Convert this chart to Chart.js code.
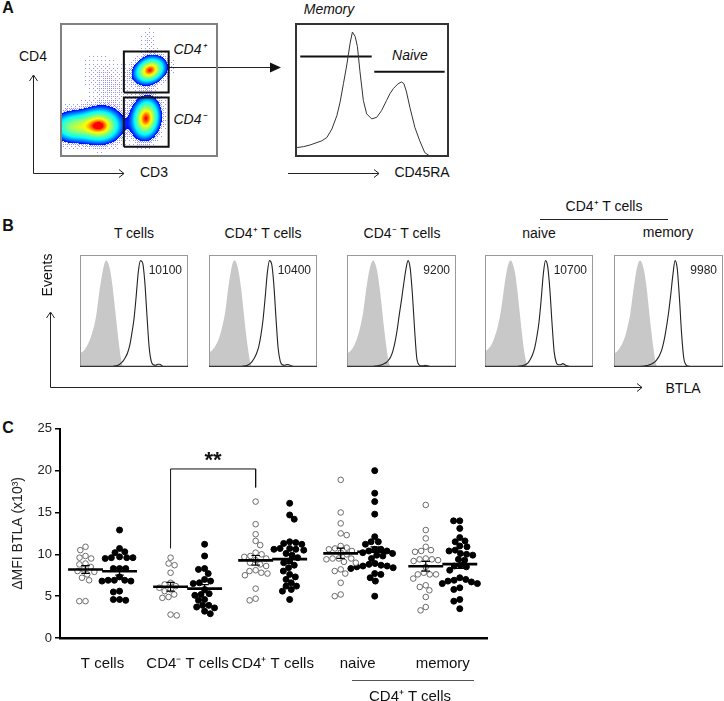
<!DOCTYPE html>
<html>
<head>
<meta charset="utf-8">
<title>BTLA expression on T cell subsets</title>
<script src="https://cdn.jsdelivr.net/npm/chart.js@4.4.1/dist/chart.umd.min.js"></script>
<style>
  html, body { margin:0; padding:0; background:#fff; }
  body { position:relative; width:724px; height:701px; overflow:hidden; font-family:"Liberation Sans", Arial, sans-serif; color:#111; }
  .t { position:absolute; white-space:nowrap; line-height:1; transform:translate(-50%,-50%); font-size:14px; }
  .r { position:absolute; white-space:nowrap; line-height:1; transform:translate(-100%,-50%); font-size:12px; color:#222; }
  .i { font-style:italic; }
  .p { font-weight:bold; font-size:16px; }
  .v { filter:grayscale(100%); color:#111; }
  canvas { position:absolute; }
  svg { position:absolute; left:0; top:0; }
</style>
</head>
<body>
<svg width="724" height="701" viewBox="0 0 724 701">
  <g stroke="#222" stroke-width="1" fill="none">
    <polyline points="33.5,76 33.5,173.5 124,173.5"/>
    <polyline points="29.5,81 33.5,75 37.5,81"/>
    <polyline points="119,169.5 124,173.5 119,177.5"/>
    <line x1="168" y1="67.5" x2="272" y2="67.5"/>
    <line x1="288" y1="173.5" x2="379" y2="173.5"/>
    <polyline points="374,169.5 379,173.5 374,177.5"/>
    <polyline points="50.5,313 50.5,387.5 642,387.5"/>
    <polyline points="46.5,318 50.5,312 54.5,318"/>
    <polyline points="637,383.5 642,387.5 637,391.5"/>
    <line x1="540" y1="219.5" x2="668" y2="219.5"/>
    <line x1="352" y1="680.5" x2="474" y2="680.5" stroke="#555"/>
  </g>
  <polygon points="270,62.5 281,67.5 270,72.5" fill="#111"/>
</svg>

<!-- Panel A -->
<div class="t p" style="left:8px;top:8px">A</div>
<div class="t" style="left:33px;top:56px">CD4</div>
<div class="t" style="left:154px;top:172px">CD3</div>
<div class="t i" style="left:190px;top:49px">CD4⁺</div>
<div class="t i" style="left:190px;top:119px">CD4⁻</div>
<div class="t i" style="left:329px;top:9px">Memory</div>
<div class="t i" style="left:410px;top:55px">Naive</div>
<div class="t" style="left:422px;top:172px">CD45RA</div>
<canvas id="dens" width="158" height="134" style="left:60px;top:23px"></canvas>
<canvas id="cd45" width="154" height="134" style="left:295px;top:23px"></canvas>

<!-- Panel B -->
<div class="t p" style="left:8px;top:226px">B</div>
<div class="t" style="left:134px;top:233px">T cells</div>
<div class="t" style="left:263px;top:233px">CD4⁺ T cells</div>
<div class="t" style="left:402px;top:233px">CD4⁻ T cells</div>
<div class="t" style="left:539px;top:233px">naive</div>
<div class="t" style="left:668px;top:232px">memory</div>
<div class="t" style="left:604px;top:206px">CD4⁺ T cells</div>
<div class="t v" style="left:47px;top:275px;transform:translate(-50%,-50%) rotate(-90deg)">Events</div>
<div class="t" style="left:683px;top:388px">BTLA</div>
<canvas id="b0" width="110" height="114" style="left:79px;top:254px"></canvas>
<canvas id="b1" width="110" height="114" style="left:208px;top:254px"></canvas>
<canvas id="b2" width="111" height="114" style="left:346px;top:254px"></canvas>
<canvas id="b3" width="110" height="114" style="left:484px;top:254px"></canvas>
<canvas id="b4" width="111" height="114" style="left:613px;top:254px"></canvas>

<!-- Panel C -->
<div class="t p" style="left:8px;top:428px">C</div>
<canvas id="dots" width="500" height="283" style="left:0px;top:418px"></canvas>
<div class="t" style="left:410px;top:695px;font-size:15px">CD4⁺ T cells</div>

<script>
// ---------------- DATA ----------------
// Panel A: density plot populations (CD3 on x, CD4 on y, 0-100 arbitrary display units)
const popNames  = ['CD3- core', 'CD3- tail', 'CD4+ T', 'CD4- T', 'smear', 'CD4+ high'];
const popX      = [25, 7, 57, 54.5, 30, 56];
const popY      = [23, 22, 65, 28.5, 55, 87];
const popSdU    = [8, 8, 6.5, 5.2, 9, 3.5];
const popSdV    = [7.5, 7, 5.2, 9, 15, 7];
const popAngle  = [0, 0, 45, -5, 25, 0];
const popWeight = [1, 0.6, 1, 1, 0.09, 0.07];
// Gates (x range, y range)
const gateCD4posX = [40.3, 69.0];
const gateCD4posY = [48.1, 79.2];
const gateCD4negX = [40.3, 69.0];
const gateCD4negY = [7.1, 44.3];

// Panel A: CD45RA histogram of CD4+ T cells (% of box height)
const cd45raX = [0.7, 5.0, 9.4, 13.8, 17.0, 20.3, 23.6, 26.9, 29.0, 31.2, 33.4, 35.6, 37.1, 38.9, 40.4, 42.1, 44.3, 46.5, 49.8, 53.1, 56.3, 59.6, 61.8, 64.0, 67.2, 69.4, 71.0, 72.7, 74.9, 78.2, 81.4, 84.7, 88.0, 100];
const cd45raY = [6.4, 7.1, 8.4, 10.2, 11.5, 14.0, 20.4, 30.6, 40.8, 54.8, 68.9, 85.5, 93.9, 90.6, 82.9, 63.8, 42.1, 31.9, 28.1, 29.3, 34.4, 42.1, 47.2, 51.0, 54.8, 56.1, 54.8, 48.5, 37.0, 21.7, 11.5, 2.6, 0, 0];
const memoryGateX = [2.8, 49.8], memoryGateY = 75.3;
const naiveGateX  = [51.5, 97.8], naiveGateY = 63.8;

// Panel B: BTLA histograms (channel position, % of box height)
const btlaX = [0, 3, 6, 9, 12, 15, 18, 20, 22, 24, 26, 28, 30, 32, 34, 36, 38, 40, 42, 44, 46, 48, 50, 52, 54, 56, 58, 60, 62, 64, 66, 68, 70, 72, 74, 76, 80, 90, 100];
const isoTcells    = [12.5, 14, 18, 24, 33, 46, 68, 80, 90, 95, 93, 86, 73, 56, 38, 21, 7, 0, 0, 0, 0, 0, 0, 0, 0, 0, 0, 0, 0, 0, 0, 0, 0, 0, 0, 0, 0, 0, 0];
const btlaTcells   = [0, 0, 0, 0, 0, 0, 0, 0, 0, 0, 0.2, 0.3, 0.5, 0.9, 1.2, 2, 3.5, 5.5, 8.5, 12.5, 19, 30, 43, 63, 85, 95, 93, 76, 46, 18, 5, 2, 1.5, 2.5, 2.5, 1, 0, 0, 0];
const isoCD4pos    = [13, 15, 19, 25, 35, 49, 72, 84, 93, 95, 91, 82, 68, 50, 32, 17, 5, 0, 0, 0, 0, 0, 0, 0, 0, 0, 0, 0, 0, 0, 0, 0, 0, 0, 0, 0, 0, 0, 0];
const btlaCD4pos   = [0, 0, 0, 0, 0, 0, 0, 0, 0, 0, 0.2, 0.3, 0.5, 0.8, 1.1, 1.8, 3, 5, 8, 12, 18, 28, 42, 62, 84, 95, 92, 74, 44, 17, 5, 2, 1.5, 2.2, 2, 1, 0, 0, 0];
const isoCD4neg    = [12, 14, 18, 25, 35, 50, 72, 84, 92, 95, 92, 84, 70, 53, 35, 19, 6, 0, 0, 0, 0, 0, 0, 0, 0, 0, 0, 0, 0, 0, 0, 0, 0, 0, 0, 0, 0, 0, 0];
const btlaCD4neg   = [0, 0, 0, 0, 0, 0, 0, 0, 0.3, 0.5, 0.8, 1, 1.5, 2, 3, 4, 6, 9, 14, 22, 33, 47, 60, 74, 87, 95, 88, 65, 34, 8, 2, 1, 1, 1.5, 1, 0.5, 0, 0, 0];
const isoNaive     = [14, 16, 20, 27, 37, 52, 73, 85, 93, 95, 91, 83, 68, 50, 32, 16, 5, 0, 0, 0, 0, 0, 0, 0, 0, 0, 0, 0, 0, 0, 0, 0, 0, 0, 0, 0, 0, 0, 0];
const btlaNaive    = [0, 0, 0, 0, 0, 0, 0, 0, 0, 0, 0.2, 0.3, 0.5, 0.8, 1, 1.5, 2.5, 4, 7, 11, 17, 27, 40, 60, 83, 95, 90, 70, 40, 14, 4, 2, 2, 3, 2, 1, 0, 0, 0];
const isoMemory    = [12, 14, 18, 24, 34, 48, 70, 83, 92, 95, 92, 84, 70, 52, 34, 18, 5, 0, 0, 0, 0, 0, 0, 0, 0, 0, 0, 0, 0, 0, 0, 0, 0, 0, 0, 0, 0, 0, 0];
const btlaMemory   = [0, 0, 0, 0, 0, 0, 0, 0, 0.2, 0.4, 0.6, 0.8, 1.2, 1.8, 2.5, 3.5, 5, 7.5, 11, 16, 24, 35, 48, 64, 82, 95, 88, 62, 30, 8, 2, 0.8, 0.5, 0.3, 0.2, 0, 0, 0, 0];
const btlaMfi      = ['10100', '10400', '9200', '10700', '9980'];

// Panel C: ΔMFI BTLA (x10^3), open and filled circles per subset
const groupLabels = ['T cells', 'CD4⁻ T cells', 'CD4⁺ T cells', 'naive', 'memory'];
const tOpen        = [10.9, 10.5, 9.8, 9.6, 9.5, 8.9, 8.8, 8.5, 8.2, 8.0, 7.9, 7.6, 7.2, 6.9, 4.4, 4.4];
const tFilled      = [12.9, 10.7, 10.3, 10.2, 9.7, 9.6, 9.6, 9.6, 9.5, 8.3, 8.3, 8.3, 7.3, 6.9, 6.9, 6.9, 6.8, 6.8, 5.6, 5.5, 4.6, 4.6, 4.5];
const cd4negOpen   = [9.6, 8.9, 8.7, 7.8, 6.6, 6.4, 6.2, 6.0, 5.8, 5.6, 5.2, 4.9, 4.8, 2.8, 2.7];
const cd4negFilled = [11.2, 9.8, 8.3, 8.2, 7.7, 7.0, 6.8, 6.6, 6.5, 5.8, 5.3, 5.2, 5.1, 4.6, 4.5, 3.9, 3.7, 3.6, 3.9, 3.2, 2.9];
const cd4posOpen   = [16.3, 13.6, 12.4, 11.6, 11.1, 10.2, 10.0, 9.8, 9.7, 9.5, 9.3, 9.0, 8.8, 8.6, 8.1, 8.0, 7.8, 7.7, 7.5, 5.9, 4.7, 4.5];
const cd4posFilled = [16.1, 14.7, 14.2, 11.3, 11.5, 11.4, 11.2, 10.7, 10.6, 10.5, 10.7, 10.6, 10.1, 9.9, 9.6, 9.2, 9.0, 8.7, 8.4, 8.0, 7.6, 7.3, 7.0, 6.6, 6.2, 6.2, 5.8, 5.6, 4.6];
const naiveOpen    = [18.9, 15.0, 13.7, 12.5, 12.3, 11.0, 10.8, 10.7, 10.6, 10.4, 10.2, 10.0, 9.5, 9.5, 9.5, 9.4, 9.1, 9.0, 8.2, 8.0, 7.7, 6.6, 5.2, 5.0];
const naiveFilled  = [20.0, 17.3, 16.3, 14.8, 12.1, 11.5, 11.5, 11.2, 10.6, 10.6, 10.4, 10.4, 10.2, 10.1, 9.9, 9.8, 9.5, 8.7, 8.6, 8.5, 8.9, 8.8, 8.6, 8.4, 8.3, 7.7, 7.6, 7.2, 6.8, 5.0];
const memoryOpen   = [15.9, 12.9, 11.9, 10.9, 10.5, 10.4, 10.3, 9.5, 9.4, 9.4, 9.3, 9.2, 8.5, 7.8, 7.6, 7.6, 7.6, 7.1, 6.3, 6.1, 5.7, 4.9, 3.7, 3.3];
const memoryFilled = [14.0, 14.0, 13.1, 12.0, 11.6, 11.5, 11.0, 10.9, 10.5, 10.4, 10.1, 10.0, 9.9, 9.4, 9.3, 8.7, 8.6, 8.5, 8.1, 7.2, 7.0, 6.9, 6.8, 6.7, 6.5, 6.5, 6.0, 5.8, 4.6, 4.4, 3.5];
const yTicks = [0, 5, 10, 15, 20, 25];
// significance bracket: CD4- (open) vs CD4+ (open)
const sigFrom = 1, sigTo = 2, sigLeftY = 10.7, sigTopY = 20.2, sigRightY = 18.0, sigLabel = '**';

// ---------------- CHARTS ----------------
Chart.defaults.font.family = '"Liberation Sans", Arial, sans-serif';
Chart.defaults.color = '#222';
Chart.defaults.animation = false;
Chart.defaults.responsive = false;
Chart.defaults.events = [];
Chart.defaults.plugins.legend.display = false;
Chart.defaults.plugins.tooltip.enabled = false;

function hiddenScales() {
  return { x: { type: 'linear', min: 0, max: 100, display: false },
           y: { type: 'linear', min: 0, max: 100, display: false } };
}
function xy(xs, ys) { return xs.map((x, i) => ({ x: x, y: ys[i] })); }
function boxPlugin(color, width, bottomColor) {
  return { id: 'box', afterDatasetsDraw(chart) {
    const { ctx, chartArea: a } = chart;
    ctx.save();
    ctx.strokeStyle = color; ctx.lineWidth = width;
    const o = width % 2 === 1 ? 0.5 : 0;
    ctx.strokeRect(a.left + o, a.top + o, a.right - a.left - 2 * o, a.bottom - a.top - 2 * o);
    if (bottomColor) {
      ctx.strokeStyle = bottomColor; ctx.lineWidth = 1.3;
      ctx.beginPath(); ctx.moveTo(a.left, a.bottom - 0.6); ctx.lineTo(a.right, a.bottom - 0.6); ctx.stroke();
    }
    ctx.restore();
  } };
}

// --- Panel A density plot ---
const BAYER = [[0, 8, 2, 10], [12, 4, 14, 6], [3, 11, 1, 9], [15, 7, 13, 5]];
// colour level vs normalised contour radius (0 = core, 1 = outer edge)
const LEVEL_Q = [0, 0.15, 0.32, 0.5, 0.7, 1.0];
const LEVEL_T = [0.875, 0.78, 0.625, 0.5, 0.375, 0.13];
function jet(t) {
  const c = v => Math.max(0, Math.min(1, v));
  return [c(1.5 - Math.abs(4 * t - 3)), c(1.5 - Math.abs(4 * t - 2)), c(1.5 - Math.abs(4 * t - 1))].map(v => Math.round(v * 255));
}
function levelT(q) {
  for (let k = 1; k < LEVEL_Q.length; k++) {
    if (q <= LEVEL_Q[k]) {
      const f = (q - LEVEL_Q[k - 1]) / (LEVEL_Q[k] - LEVEL_Q[k - 1]);
      return LEVEL_T[k - 1] + f * (LEVEL_T[k] - LEVEL_T[k - 1]);
    }
  }
  return LEVEL_T[LEVEL_T.length - 1];
}
const D0 = 0.15, S0 = Math.sqrt(-2 * Math.log(D0));
const densityPlugin = { id: 'density', beforeDatasetsDraw(chart) {
  const { ctx, chartArea: a, scales: { x, y } } = chart;
  const L = Math.round(a.left), T = Math.round(a.top);
  const w = Math.round(a.right) - L, h = Math.round(a.bottom) - T;
  const img = ctx.createImageData(w, h);
  for (let j = 0; j < h; j++) {
    const vy = y.getValueForPixel(T + j + 0.5);
    for (let i = 0; i < w; i++) {
      const vx = x.getValueForPixel(L + i + 0.5);
      let d = 0;
      for (let k = 0; k < popX.length; k++) {
        const dx = vx - popX[k], dy = vy - popY[k];
        const th = popAngle[k] * Math.PI / 180;
        const u = (dx * Math.cos(th) + dy * Math.sin(th)) / popSdU[k];
        const v = (-dx * Math.sin(th) + dy * Math.cos(th)) / popSdV[k];
        d += popWeight[k] * Math.exp(-(u * u + v * v) / 2);
      }
      d = Math.min(d, 1);
      const o = (j * w + i) * 4;
      if (d >= D0) {
        const q = Math.sqrt(-2 * Math.log(Math.max(d, 1e-9))) / S0;
        const c = jet(levelT(q));
        img.data[o] = c[0]; img.data[o + 1] = c[1]; img.data[o + 2] = c[2]; img.data[o + 3] = 255;
      } else {
        const p = 0.55 * Math.pow(d / D0, 1.6);
        if (p > (BAYER[j % 4][i % 4] + 0.5) / 16) {
          img.data[o] = 110; img.data[o + 1] = 110; img.data[o + 2] = 255; img.data[o + 3] = 190;
        }
      }
    }
  }
  ctx.putImageData(img, L, T);
} };
function gateRect(xr, yr) {
  return [{ x: xr[0], y: yr[0] }, { x: xr[1], y: yr[0] }, { x: xr[1], y: yr[1] }, { x: xr[0], y: yr[1] }, { x: xr[0], y: yr[0] }];
}
new Chart(document.getElementById('dens'), {
  type: 'scatter',
  data: { datasets: [
    { data: gateRect(gateCD4posX, gateCD4posY), showLine: true, borderColor: '#111', borderWidth: 2, pointRadius: 0 },
    { data: gateRect(gateCD4negX, gateCD4negY), showLine: true, borderColor: '#111', borderWidth: 2, pointRadius: 0 }
  ] },
  options: { layout: { padding: 1 }, scales: hiddenScales() },
  plugins: [densityPlugin, boxPlugin('#808080', 2)]
});

// --- Panel A CD45RA histogram ---
new Chart(document.getElementById('cd45'), {
  type: 'scatter',
  data: { datasets: [
    { data: xy(cd45raX, cd45raY), showLine: true, borderColor: '#333', borderWidth: 1, pointRadius: 0 },
    { data: [{ x: memoryGateX[0], y: memoryGateY }, { x: memoryGateX[1], y: memoryGateY }], showLine: true, borderColor: '#111', borderWidth: 2, pointRadius: 0 },
    { data: [{ x: naiveGateX[0], y: naiveGateY }, { x: naiveGateX[1], y: naiveGateY }], showLine: true, borderColor: '#111', borderWidth: 2, pointRadius: 0 }
  ] },
  options: { layout: { padding: 1 }, scales: hiddenScales() },
  plugins: [boxPlugin('#333', 2)]
});

// --- Panel B histograms ---
const isoSeries  = [isoTcells, isoCD4pos, isoCD4neg, isoNaive, isoMemory];
const btlaSeries = [btlaTcells, btlaCD4pos, btlaCD4neg, btlaNaive, btlaMemory];
isoSeries.forEach((iso, k) => {
  const cv = document.getElementById('b' + k);
  new Chart(cv, {
    type: 'scatter',
    data: { datasets: [
      { data: xy(btlaX, btlaSeries[k]), showLine: true, borderColor: '#222', borderWidth: 1.1, pointRadius: 0, cubicInterpolationMode: 'monotone', order: 0 },
      { data: xy(btlaX, iso), showLine: true, borderWidth: 0, borderColor: 'rgba(0,0,0,0)', backgroundColor: '#c8c8c8', fill: 'origin', pointRadius: 0, cubicInterpolationMode: 'monotone', order: 1 }
    ] },
    options: { layout: { padding: 1 }, scales: hiddenScales() },
    plugins: [boxPlugin('#9a9a9a', 1, '#333')]
  });
  const lbl = document.createElement('div');
  lbl.className = 'r';
  lbl.textContent = btlaMfi[k];
  lbl.style.left = (parseFloat(cv.style.left) + cv.width - 7) + 'px';
  lbl.style.top = '270px';
  document.body.appendChild(lbl);
});

// --- Panel C dot plot ---
const PX_PER_X = 85, PX_PER_Y = 8.4, DIAM = 6.2, OFF = 0.2;
function swarm(values, center) {
  const order = values.map((v, i) => i).sort((a, b) => values[b] - values[a]);
  const placed = [], out = new Array(values.length);
  let flip = 1;
  for (const i of order) {
    const py = values[i] * PX_PER_Y;
    const cands = [0];
    for (const p of placed) {
      const dy = Math.abs(p.py - py);
      if (dy < DIAM) { const dx = Math.sqrt(DIAM * DIAM - dy * dy); cands.push(p.px + flip * dx, p.px - flip * dx); }
    }
    flip = -flip;
    cands.sort((a, b) => Math.abs(a) - Math.abs(b));
    let best = 0;
    for (const c of cands) {
      if (placed.every(p => (p.px - c) * (p.px - c) + (p.py - py) * (p.py - py) >= DIAM * DIAM - 0.01)) { best = c; break; }
    }
    placed.push({ px: best, py: py });
    out[i] = { x: center + best / PX_PER_X, y: values[i] };
  }
  return out;
}
const mean = a => a.reduce((s, v) => s + v, 0) / a.length;
const sem = a => { const m = mean(a); return Math.sqrt(a.reduce((s, v) => s + (v - m) * (v - m), 0) / (a.length - 1)) / Math.sqrt(a.length); };

const openSeries   = [tOpen, cd4negOpen, cd4posOpen, naiveOpen, memoryOpen];
const filledSeries = [tFilled, cd4negFilled, cd4posFilled, naiveFilled, memoryFilled];
const dotSets = [];
groupLabels.forEach((g, gi) => {
  [[openSeries[gi], -OFF, true], [filledSeries[gi], OFF, false]].forEach(([vals, off, open]) => {
    const cx = gi + off, m = mean(vals), s = sem(vals);
    dotSets.push({ label: g + (open ? ' (open)' : ' (filled)'), data: swarm(vals, cx), pointRadius: open ? 2.8 : 3,
      backgroundColor: open ? '#fff' : '#000', borderColor: open ? '#6a6a6a' : '#000', borderWidth: 1, order: 3 });
    dotSets.push({ data: [{ x: cx - 0.205, y: m }, { x: cx + 0.205, y: m }], showLine: true, borderColor: '#000', borderWidth: 2.6, pointRadius: 0, order: 1 });
    dotSets.push({ data: [{ x: cx - 0.05, y: m + s }, { x: cx + 0.05, y: m + s }, { x: cx, y: m + s }, { x: cx, y: m - s }, { x: cx - 0.05, y: m - s }, { x: cx + 0.05, y: m - s }],
      showLine: true, borderColor: '#000', borderWidth: 1.2, pointRadius: 0, order: 1 });
  });
});
dotSets.push({ data: [{ x: sigFrom - OFF, y: sigLeftY }, { x: sigFrom - OFF, y: sigTopY }, { x: sigTo - OFF, y: sigTopY }, { x: sigTo - OFF, y: sigRightY }],
  showLine: true, borderColor: '#111', borderWidth: 1, pointRadius: 0, order: 1 });

const sigPlugin = { id: 'sig', afterDatasetsDraw(chart) {
  const { ctx, scales: { x, y } } = chart;
  ctx.save();
  ctx.fillStyle = '#111';
  ctx.font = 'bold 22px "Liberation Sans", Arial, sans-serif';
  ctx.textAlign = 'center'; ctx.textBaseline = 'middle';
  ctx.fillText(sigLabel, x.getPixelForValue((sigFrom + sigTo) / 2 - OFF), y.getPixelForValue(sigTopY) - 8);
  ctx.restore();
} };

new Chart(document.getElementById('dots'), {
  type: 'scatter',
  data: { datasets: dotSets },
  options: {
    layout: { padding: { top: 10, right: 13, left: 0, bottom: 0 } },
    scales: {
      x: { type: 'linear', min: -0.5, max: 4.52,
        afterFit: s => { s.height = 63; },
        afterBuildTicks: s => { s.ticks = groupLabels.map((l, i) => ({ value: i })); },
        ticks: { callback: v => groupLabels[v], font: { size: 15 }, color: '#111', padding: 17, maxRotation: 0, autoSkip: false },
        grid: { display: false, drawTicks: false },
        border: { display: true, color: '#000', width: 2.5 } },
      y: { type: 'linear', min: 0, max: 25,
        afterFit: s => { s.width = 60; },
        afterBuildTicks: s => { s.ticks = yTicks.map(v => ({ value: v })); },
        ticks: { font: { size: 13 }, color: '#222', padding: 3 },
        grid: { display: true, drawOnChartArea: false, drawTicks: true, tickLength: 5, color: '#000', lineWidth: 1.5 },
        border: { display: true, color: '#000', width: 2 },
        title: { display: true, text: 'ΔMFI BTLA (x10³)', font: { size: 14 }, color: '#222', padding: { top: 10, bottom: 0 } } }
    }
  },
  plugins: [sigPlugin]
});
</script>
</body>
</html>
